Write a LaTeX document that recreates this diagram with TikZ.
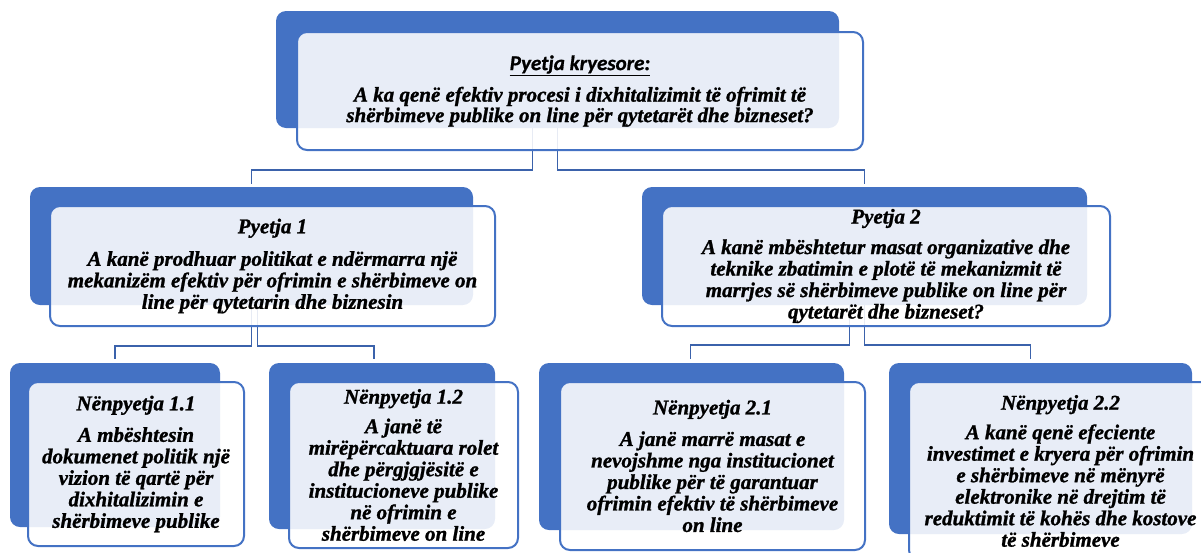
\documentclass[tikz,border=0pt]{standalone}
\usepackage{fontspec}
\setmainfont{Liberation Serif}
\newfontfamily\tnr{Liberation Serif}[ItalicFont={Liberation Serif Italic},
  BoldFont={Liberation Serif Bold}, BoldItalicFont={Liberation Serif Bold Italic},
  BoldItalicFeatures={FakeBold=1.2}]
\newfontfamily\calfont{Carlito}[BoldItalicFont={Carlito Bold Italic},
  BoldItalicFeatures={FakeBold=0.8}]
\usetikzlibrary{calc}
\definecolor{accent}{HTML}{4472C4}
\definecolor{connc}{HTML}{3B62AB}
\begin{document}
\begin{tikzpicture}[x=1pt,y=-1pt,
  backbox/.style={fill=accent, rounded corners=10pt, inner sep=0pt},
  frontbox/.style={draw=accent, line width=2pt, fill=white, fill opacity=0.88,
    text opacity=1, rounded corners=10pt, inner sep=0pt, align=center,
    font=\tnr\fontsize{21}{21.5}\selectfont\bfseries\itshape},
  conn/.style={draw=connc, line width=1.8pt}]
\useasboundingbox (0,0) rectangle (1201,552);
\clip (0,0) rectangle (1201,552);
% back boxes
\node[backbox, minimum width=563pt, minimum height=117pt] (topB) at (557.5,69.5) {};
\node[backbox, minimum width=443pt, minimum height=118pt] (p1B) at (251.5,246) {};
\node[backbox, minimum width=445pt, minimum height=118pt] (p2B) at (864.5,246) {};
\node[backbox, minimum width=210pt, minimum height=164pt] (n11B) at (115,445) {};
\node[backbox, minimum width=226pt, minimum height=166pt] (n12B) at (382,446) {};
\node[backbox, minimum width=305pt, minimum height=167pt] (n21B) at (691.5,446.5) {};
\node[backbox, minimum width=303pt, minimum height=171pt] (n22B) at (1040.5,448.5) {};
% connectors
\draw[conn] ($(topB.south)+(-25,0)$) -- ++(0,42) -| ($(p1B.north)+(0,-3)$);
\draw[conn] (topB.south) -- ++(0,42) -| ($(p2B.north)+(0,-3)$);
\draw[conn] (p1B.south) -- ++(0,41) -| ($(n11B.north)+(0,-4)$);
\draw[conn] ($(p1B.south)+(6,0)$) -- ++(0,41) -| ($(n12B.north)+(-8,-4)$);
\draw[conn] ($(p2B.south)+(-15,0)$) -- ++(0,40) -| ($(n21B.north)+(-1,-4)$);
\draw[conn] (p2B.south) -- ++(0,40) -| ($(n22B.north)+(-10,-4)$);
% front boxes
\node[frontbox, minimum width=566pt, minimum height=118pt, font=\tnr\fontsize{21}{20.5}\selectfont\bfseries\itshape] (topF) at (580,91)
  {\underline{\calfont\bfseries\itshape Pyetja kryesore:}\\[11pt]
   A ka qenë efektiv procesi i dixhitalizimit të ofrimit të\\
   shërbimeve publike on line për qytetarët dhe bizneset?};
\node[frontbox, minimum width=445pt, minimum height=120pt] (p1F) at (272.5,266)
  {Pyetja 1\\[11pt]
   A kanë prodhuar politikat e ndërmarra një\\
   mekanizëm efektiv për ofrimin e shërbimeve on\\
   line për qytetarin dhe biznesin};
\node[frontbox, minimum width=448pt, minimum height=120pt] (p2F) at (886,266)
  {Pyetja 2\\[9pt]
   A kanë mbështetur masat organizative dhe\\
   teknike zbatimin e plotë të mekanizmit të\\
   marrjes së shërbimeve publike on line për\\
   qytetarët dhe bizneset?};
\node[frontbox, minimum width=216pt, minimum height=164pt] (n11F) at (136,464)
  {Nënpyetja 1.1\\[10pt]
   A mbështesin\\ dokumenet politik një\\ vizion të qartë për\\
   dixhitalizimin e\\ shërbimeve publike};
\node[frontbox, minimum width=229pt, minimum height=166pt] (n12F) at (403.5,465)
  {Nënpyetja 1.2\\[8pt]
   A janë të\\ mirëpërcaktuara rolet\\ dhe përgjgjësitë e\\
   institucioneve publike\\ në ofrimin e\\ shërbimeve on line};
\node[frontbox, minimum width=305pt, minimum height=168pt] (n21F) at (712.5,466)
  {Nënpyetja 2.1\\[10pt]
   A janë marrë masat e\\ nevojshme nga institucionet\\ publike për të garantuar\\
   ofrimin efektiv të shërbimeve\\ on line};
\node[frontbox, minimum width=303pt, minimum height=178pt] (n22F) at (1060.5,471)
  {Nënpyetja 2.2\\[8pt]
   A kanë qenë efeciente\\ investimet e kryera për ofrimin\\ e shërbimeve në mënyrë\\
   elektronike në drejtim të\\ reduktimit të kohës dhe kostove\\ të shërbimeve};
\end{tikzpicture}
\end{document}
